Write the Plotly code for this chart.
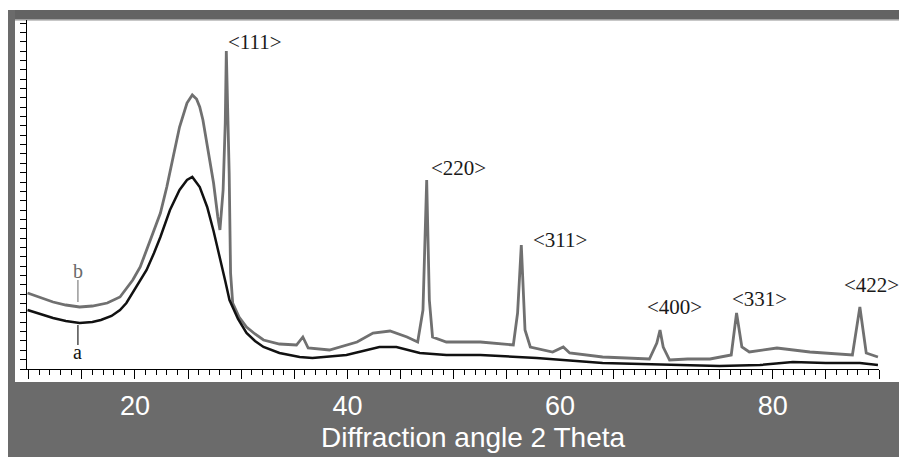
import plotly.graph_objects as go

# 2-theta (deg) and intensity (a.u.)
theta_b = [9.9, 11.0, 12.3, 13.5, 14.8, 16.0, 17.4, 18.6, 19.8, 20.5, 21.1, 21.7, 22.4, 23.0, 23.6,
           24.2, 24.9, 25.4, 25.8, 26.1, 26.4, 26.8, 27.0, 27.4, 27.8, 28.0, 28.3, 28.5, 28.6, 28.75,
           28.87, 29.0, 29.2, 29.8, 30.5, 31.3, 32.1, 33.6, 35.2, 35.8, 36.3, 38.3, 40.9, 42.4, 44.0,
           45.6, 46.6, 47.1, 47.45, 47.7, 48.0, 49.3, 52.5, 55.6, 56.0, 56.35, 56.7, 57.2, 59.3,
           60.3, 60.9, 64.0, 68.4, 69.1, 69.4, 69.7, 70.3, 72.0, 74.1, 76.1, 76.6, 77.1, 77.8,
           80.4, 83.5, 87.5, 87.9, 88.2, 88.5, 88.8, 89.9]
intensity_b = [76, 72, 67, 64, 62, 63, 66, 72, 89, 102, 118, 136, 156, 182, 212,
               242, 266, 274, 270, 262, 249, 222, 212, 186, 152, 139, 179, 246, 318, 260,
               196, 96, 66, 52, 42, 35, 29, 25, 24, 32, 21, 19, 27, 36, 38,
               32, 27, 59, 189, 69, 32, 27, 27, 24, 56, 124, 39, 22, 17,
               22, 16, 12, 10, 26, 39, 22, 9, 10, 10, 14, 56, 22, 17,
               21, 17, 14, 39, 62, 39, 16, 12]

theta_a = [9.9, 11.0, 12.3, 13.5, 14.8, 16.0, 16.8, 17.8, 18.6, 19.2, 19.8, 20.5, 21.1, 21.8, 22.4,
           23.3, 24.2, 24.9, 25.4, 26.1, 26.8, 27.4, 28.0, 28.5, 28.9, 29.7, 30.5, 31.3, 32.1,
           33.6, 35.5, 36.7, 39.9, 41.5, 43.0, 44.6, 46.8, 49.3, 52.5, 57.8, 64.0, 71.3, 75.0,
           78.8, 81.9, 85.0, 88.2, 89.9]
intensity_a = [59, 55, 51, 48, 46, 47, 49, 53, 59, 66, 76, 88, 99, 116, 132,
               159, 179, 189, 192, 182, 162, 138, 112, 88, 69, 50, 36, 28, 22,
               16, 12, 11, 14, 18, 22, 22, 16, 14, 14, 11, 6, 4, 3,
               4, 7, 6, 6, 4]

peak_labels = ["<111>", "<220>", "<311>", "<400>", "<331>", "<422>"]
peak_label_theta = [31.3, 50.4, 60.0, 70.8, 78.8, 89.3]
peak_label_int = [327, 201, 129, 62, 70, 84]

tick_vals = [10, 15, 20, 25, 30, 35, 40, 45, 50, 55, 60, 65, 70, 75, 80, 85, 90]
tick_text = ["", "", "20", "", "", "", "40", "", "", "", "60", "", "", "", "80", "", ""]

W, H = 899, 457
L, R, T, B = 27, 20, 20, 88
pw, ph = W - L - R, H - T - B


def px(x):
    return (x - L) / pw


def py(y):
    return (H - B - y) / ph


fig = go.Figure()
fig.add_trace(go.Scatter(x=theta_b, y=intensity_b, mode="lines",
                         line=dict(color="#707070", width=2.8), name="b",
                         showlegend=False, hoverinfo="skip"))
fig.add_trace(go.Scatter(x=theta_a, y=intensity_a, mode="lines",
                         line=dict(color="#111111", width=2.5), name="a",
                         showlegend=False, hoverinfo="skip"))

shapes = [
    # top bar
    dict(type="rect", xref="paper", yref="paper", x0=px(8), x1=px(W), y0=py(20), y1=py(10),
         fillcolor="#636363", line=dict(width=0), layer="below"),
    dict(type="line", xref="paper", yref="paper", x0=px(8), x1=px(W), y0=py(20), y1=py(20),
         line=dict(color="#b5b5b5", width=1.5), layer="below"),
    # left bar
    dict(type="rect", xref="paper", yref="paper", x0=px(8), x1=px(15), y0=py(H), y1=py(10),
         fillcolor="#6b6b6b", line=dict(width=0), layer="below"),
    # bottom band
    dict(type="rect", xref="paper", yref="paper", x0=px(8), x1=px(W), y0=py(H), y1=py(382),
         fillcolor="#6b6b6b", line=dict(width=0), layer="below"),
    # label leader lines
    dict(type="line", xref="x", yref="y", x0=14.64, x1=14.64, y0=67, y1=89,
         line=dict(color="#808080", width=1.2)),
    dict(type="line", xref="x", yref="y", x0=14.64, x1=14.64, y0=24, y1=44,
         line=dict(color="#222222", width=1.2)),
]

annotations = []
for t, xv, yv in zip(peak_labels, peak_label_theta, peak_label_int):
    annotations.append(dict(x=xv, y=yv, xref="x", yref="y", text=t.replace("<", "&lt;").replace(">", "&gt;"),
                            showarrow=False, font=dict(family="Liberation Serif", size=21, color="#1a1a1a")))
annotations.append(dict(x=14.64, y=98, xref="x", yref="y", text="b", showarrow=False,
                        font=dict(family="Liberation Serif", size=20, color="#6a6a6a")))
annotations.append(dict(x=14.64, y=17, xref="x", yref="y", text="a", showarrow=False,
                        font=dict(family="Liberation Serif", size=20, color="#111111")))
annotations.append(dict(x=px(473), y=py(437), xref="paper", yref="paper",
                        text="Diffraction angle 2 Theta", showarrow=False,
                        xanchor="center", yanchor="middle",
                        font=dict(family="Liberation Sans", size=28, color="#ffffff")))

fig.update_layout(
    width=W, height=H,
    margin=dict(l=L, r=R, t=T, b=B, pad=0),
    paper_bgcolor="#ffffff", plot_bgcolor="#ffffff",
    shapes=shapes, annotations=annotations, showlegend=False,
    xaxis=dict(range=[9.85, 90.0], tickmode="array", tickvals=tick_vals, ticktext=tick_text,
               ticks="outside", ticklen=9, tickwidth=1, tickcolor="#000000",
               showline=True, linecolor="#000000", linewidth=1, showgrid=False, zeroline=False,
               tickfont=dict(family="Liberation Sans", size=27, color="#ffffff"),
               ticklabelstandoff=4,
               minor=dict(dtick=1, tick0=0, ticks="outside", ticklen=5, tickcolor="#000000",
                          showgrid=False)),
    yaxis=dict(range=[0, 349], tick0=0, dtick=9.35, ticks="outside", ticklen=6, tickwidth=1,
               tickcolor="#000000", showticklabels=False, showline=True, linecolor="#000000",
               linewidth=1, showgrid=False, zeroline=False),
)

fig.write_html("out.html", config={"displayModeBar": False},
               post_script="document.body.style.margin='0';document.body.style.overflow='hidden';")
